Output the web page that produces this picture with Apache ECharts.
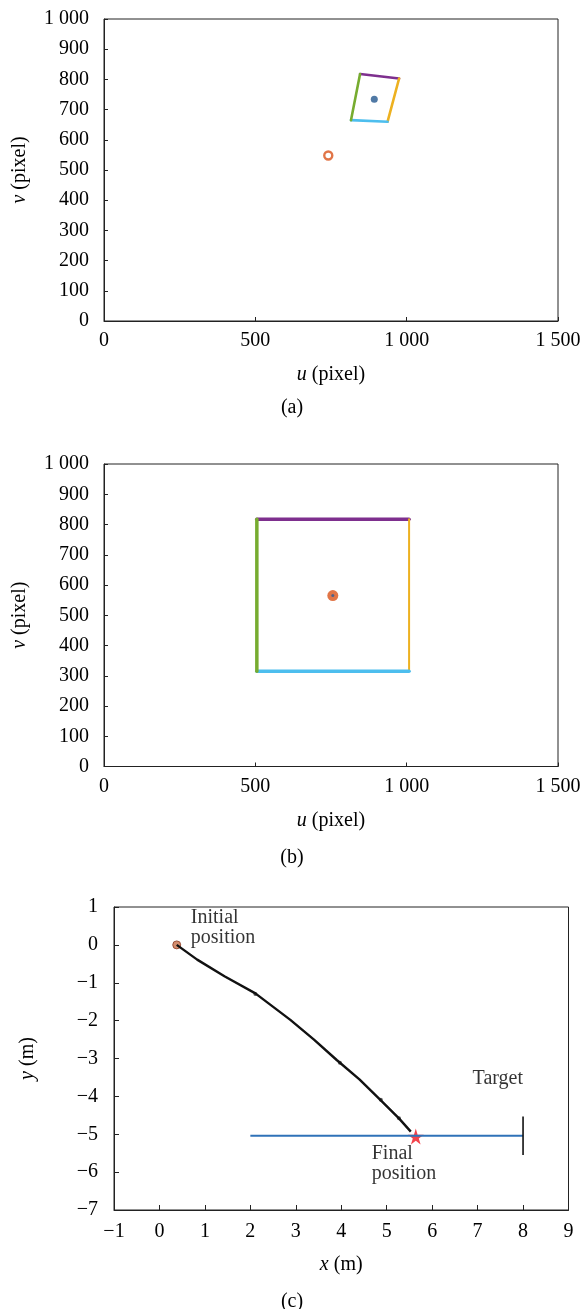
<!DOCTYPE html>
<html>
<head>
<meta charset="utf-8">
<script src="https://cdn.jsdelivr.net/npm/echarts@6/dist/echarts.min.js"></script>
<style>
html,body{margin:0;padding:0;background:#fff;}
#chart{width:584px;height:1309px;}
</style>
</head>
<body>
<div id="chart"></div>
<script>
// ---------- data ----------
// (a) detected quadrilateral corners [u, v] (pixel): top-left, top-right, bottom-right, bottom-left
const quadA = [[846, 818], [975, 803], [937, 660], [816, 665]];
const centerA = [[893, 734]];
const desiredA = [[741, 548]];
// (b) final image quadrilateral corners
const quadB = [[505, 817], [1008, 817], [1008, 315], [505, 315]];
const centerB = [[756, 565]];
const desiredB = [[756, 565]];
// (c) trajectory
const trajX = [0.38, 0.83, 1.43, 2.11, 2.88, 3.40, 3.90, 4.40, 4.86, 5.27, 5.53];
const trajY = [0.00, -0.39, -0.83, -1.28, -1.98, -2.50, -3.04, -3.55, -4.09, -4.58, -4.93];
const samplePts = [[2.11, -1.30], [3.97, -3.11], [4.87, -4.09], [5.27, -4.58]];
const initialPos = [[0.38, 0.0]];
const finalPos = [[5.64, -5.06]];
const targetLine = [[2.0, -5.04], [8.0, -5.04]];
const targetBar = [[8.0, -4.53], [8.0, -5.55]];
const annoInitial = [[0.69, 0.45]];
const annoTarget = [[6.89, -3.54]];
const annoFinal = [[4.67, -5.78]];
// tick labels
const pixU = [0, 500, 1000, 1500];
const pixULabels = ['0', '500', '1 000', '1 500'];
const pixV = [0, 100, 200, 300, 400, 500, 600, 700, 800, 900, 1000];
const pixVLabels = ['0', '100', '200', '300', '400', '500', '600', '700', '800', '900', '1 000'];
const mX = [-1, 0, 1, 2, 3, 4, 5, 6, 7, 8, 9];
const mXLabels = ['\u22121', '0', '1', '2', '3', '4', '5', '6', '7', '8', '9'];
const mY = [-7, -6, -5, -4, -3, -2, -1, 0, 1];
const mYLabels = ['\u22127', '\u22126', '\u22125', '\u22124', '\u22123', '\u22122', '\u22121', '0', '1'];
const captions = ['(a)', '(b)', '(c)'];

// edge colours: top, right, bottom, left
const edgeColors = ['#7E2F8E', '#EDB120', '#4DBEEE', '#77AC30'];

// ---------- helpers ----------
const FONT = '"Liberation Serif", "Times New Roman", serif';
const TXT = '#000';
function lookup(vals, labels) {
  return function (v) {
    const i = vals.findIndex(x => Math.abs(x - v) < 1e-6);
    return i >= 0 ? labels[i] : '';
  };
}
function axisCommon() {
  return {
    axisLine: { show: true, onZero: false, lineStyle: { color: '#222', width: 1 } },
    axisTick: { show: true, inside: true, length: 4, lineStyle: { color: '#222' } },
    splitLine: { show: false },
    axisLabel: { fontFamily: FONT, fontSize: 20, color: TXT },
    nameTextStyle: {
      fontFamily: FONT, fontSize: 20, color: TXT,
      rich: { i: { fontFamily: FONT, fontSize: 20, fontStyle: 'italic', color: TXT } }
    },
    nameLocation: 'middle'
  };
}
function xAxisPix(gi) {
  const a = axisCommon();
  return Object.assign(a, {
    type: 'value', gridIndex: gi, min: 0, max: 1500, interval: 500,
    name: '{i|u} (pixel)', nameGap: 44,
    axisLabel: Object.assign(a.axisLabel, { margin: 10, formatter: lookup(pixU, pixULabels) })
  });
}
function yAxisPix(gi) {
  const a = axisCommon();
  return Object.assign(a, {
    type: 'value', gridIndex: gi, min: 0, max: 1000, interval: 100,
    name: '{i|v} (pixel)', nameGap: 74,
    axisLabel: Object.assign(a.axisLabel, { margin: 15, formatter: lookup(pixV, pixVLabels) })
  });
}
function edgeSeries(quad, gi, widths) {
  const out = [];
  for (let k = 0; k < 4; k++) {
    out.push({
      type: 'line', xAxisIndex: gi, yAxisIndex: gi,
      data: [quad[k], quad[(k + 1) % 4]],
      showSymbol: false, symbol: 'none', animation: false,
      lineStyle: { color: edgeColors[k], width: widths[k], cap: 'round' }
    });
  }
  return out;
}
const annoLabel = (txt) => ({
  show: true, position: 'right', distance: 0, formatter: txt,
  fontFamily: FONT, fontSize: 20, lineHeight: 20, color: TXT
});

const xAxC = axisCommon();
const yAxC = axisCommon();
const capStyle = { fontFamily: FONT, fontSize: 20, fontWeight: 'normal', color: TXT };

const option = {
  animation: false,
  backgroundColor: '#fff',
  title: [
    { text: captions[0], left: 'center', top: 393, textStyle: capStyle },
    { text: captions[1], left: 'center', top: 843, textStyle: capStyle },
    { text: captions[2], left: 'center', top: 1287, textStyle: capStyle }
  ],
  grid: [
    { left: 104, width: 454, top: 19, height: 302, show: true, borderColor: '#222', borderWidth: 1, backgroundColor: 'transparent' },
    { left: 104, width: 454, top: 464, height: 302.5, show: true, borderColor: '#222', borderWidth: 1, backgroundColor: 'transparent' },
    { left: 114, width: 454.5, top: 907, height: 303, show: true, borderColor: '#222', borderWidth: 1, backgroundColor: 'transparent' }
  ],
  xAxis: [
    xAxisPix(0),
    xAxisPix(1),
    Object.assign(xAxC, {
      type: 'value', gridIndex: 2, min: -1, max: 9, interval: 1,
      name: '{i|x} (m)', nameGap: 45,
      axisTick: Object.assign(xAxC.axisTick, { length: 5 }),
      axisLabel: Object.assign(xAxC.axisLabel, { margin: 12, formatter: lookup(mX, mXLabels) })
    })
  ],
  yAxis: [
    yAxisPix(0),
    yAxisPix(1),
    Object.assign(yAxC, {
      type: 'value', gridIndex: 2, min: -7, max: 1, interval: 1,
      name: '{i|y} (m)', nameGap: 76,
      axisTick: Object.assign(yAxC.axisTick, { length: 5 }),
      axisLabel: Object.assign(yAxC.axisLabel, { margin: 16, formatter: lookup(mY, mYLabels) })
    })
  ],
  series: [].concat(
    edgeSeries(quadA, 0, [2.6, 2.6, 2.6, 2.6]),
    [
      { type: 'scatter', xAxisIndex: 0, yAxisIndex: 0, data: centerA, symbol: 'circle', symbolSize: 7,
        itemStyle: { color: '#24588F' } },
      { type: 'scatter', xAxisIndex: 0, yAxisIndex: 0, data: desiredA, symbol: 'circle', symbolSize: 8,
        itemStyle: { color: '#fff', borderColor: '#D95319', borderWidth: 2.4 } }
    ],
    edgeSeries(quadB, 1, [3.5, 2, 3.5, 3.5]),
    [
      { type: 'scatter', xAxisIndex: 1, yAxisIndex: 1, data: desiredB, symbol: 'circle', symbolSize: 11,
        itemStyle: { color: '#D95319' } },
      { type: 'scatter', xAxisIndex: 1, yAxisIndex: 1, data: centerB, symbol: 'circle', symbolSize: 3,
        itemStyle: { color: '#2A5D9A' } }
    ],
    [
      { type: 'line', xAxisIndex: 2, yAxisIndex: 2, data: targetLine, symbol: 'none',
        lineStyle: { color: '#2F72B8', width: 2.2 } },
      { type: 'line', xAxisIndex: 2, yAxisIndex: 2, data: targetBar, symbol: 'none',
        lineStyle: { color: '#111', width: 1.6 } },
      { type: 'line', xAxisIndex: 2, yAxisIndex: 2,
        data: trajX.map((x, i) => [x, trajY[i]]), symbol: 'none', smooth: false,
        lineStyle: { color: '#111', width: 2.4 } },
      { type: 'scatter', xAxisIndex: 2, yAxisIndex: 2, data: samplePts, symbolSize: 4,
        itemStyle: { color: '#333' } },
      { type: 'scatter', xAxisIndex: 2, yAxisIndex: 2, data: initialPos, symbolSize: 8,
        itemStyle: { color: '#C8704A', borderColor: '#8A3A22', borderWidth: 1 } },
      { type: 'scatter', xAxisIndex: 2, yAxisIndex: 2, data: finalPos,
        symbol: 'path://M50,0 L61,35 L98,35 L68,57 L79,91 L50,70 L21,91 L32,57 L2,35 L39,35 Z', symbolSize: 16,
        itemStyle: { color: '#F0141E' } },
      { type: 'scatter', xAxisIndex: 2, yAxisIndex: 2, data: annoInitial, symbolSize: 0, label: annoLabel('Initial\nposition') },
      { type: 'scatter', xAxisIndex: 2, yAxisIndex: 2, data: annoTarget, symbolSize: 0, label: annoLabel('Target') },
      { type: 'scatter', xAxisIndex: 2, yAxisIndex: 2, data: annoFinal, symbolSize: 0, label: annoLabel('Final\nposition') }
    ]
  )
};

const chart = echarts.init(document.getElementById('chart'), null, { renderer: 'canvas' });
chart.setOption(option);
</script>
</body>
</html>
